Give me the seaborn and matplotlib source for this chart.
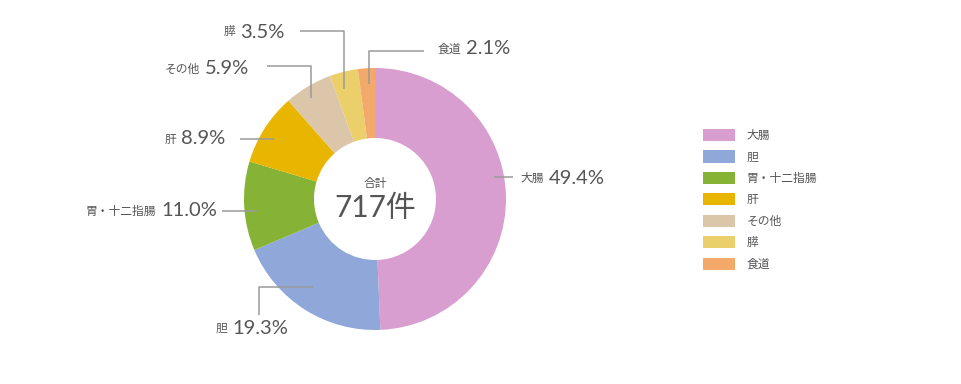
import matplotlib
matplotlib.use("Agg")
import matplotlib.pyplot as plt
import seaborn as sns

# ---- data ----
categories = ["大腸", "胆", "胃・十二指腸", "肝", "その他", "膵", "食道"]
legend_labels = ["大腸", "胆", "胃・十二指腸", "肝", "その他", "膵", "食道"]
percents = [49.4, 19.3, 11.0, 8.9, 5.9, 3.5, 2.1]
total_label = "合計"
total_value = "717件"
colors = ["#d89ecf", "#8fa8d9", "#86b336", "#e8b600", "#dcc6a9", "#ebcf6a", "#f3a96a"]

# ---- layout (pixel coordinates of the 962x384 canvas) ----
W, H = 962, 384
CX, CY, R, RING = 375, 199, 131, 70
# percent text left x, text center y, leader line polyline
label_layout = [
    (549, 178, [(494, 177), (513, 177)]),
    (232, 328, [(313, 287), (259, 287), (259, 315)]),
    (161, 211, [(257, 211), (222, 211)]),
    (181, 139, [(274, 139), (240, 139)]),
    (205, 69, [(311, 98), (311, 66), (267, 66)]),
    (240, 32, [(344, 89), (344, 31), (300, 31)]),
    (466, 49, [(369, 84), (369, 51), (424, 51)]),
]

sns.set_theme(style="white")
plt.rcParams["font.family"] = ["Noto Sans CJK JP", "DejaVu Sans"]

TXT = "#555555"
fig = plt.figure(figsize=(W / 100, H / 100), dpi=100)
ax = fig.add_axes([0, 0, 1, 1])

def Y(y):
    return H - y

palette = sns.color_palette(colors)
wedges, _ = ax.pie(percents, colors=palette, startangle=90, counterclock=False,
                   radius=R, center=(CX, Y(CY)),
                   wedgeprops=dict(width=RING, linewidth=0))

for name, pct, (px, py, line) in zip(categories, percents, label_layout):
    xs = [p[0] for p in line]
    ys = [Y(p[1]) for p in line]
    ax.plot(xs, ys, color="#9a9a9a", lw=1.1, solid_capstyle="butt")
    ax.text(px, Y(py), f"{pct:.1f}%", ha="left", va="center", fontsize=14.5,
            color=TXT, family=["Lato", "Noto Sans CJK JP"])
    ax.text(px - 5, Y(py), name, ha="right", va="center", fontsize=8.5, color=TXT)

ax.text(CX, Y(184), total_label, ha="center", va="center", fontsize=8.5, color=TXT)
ax.text(CX, Y(208), total_value, ha="center", va="center", fontsize=21.5, color=TXT,
        family=["Lato", "Noto Sans CJK JP"])

leg = ax.legend(wedges, legend_labels, loc="upper left",
                bbox_to_anchor=(703 / W, 1 - 129 / H), bbox_transform=fig.transFigure,
                frameon=False, fontsize=8.5, handlelength=2.7, handleheight=1.2,
                labelspacing=0.71, borderpad=0, borderaxespad=0, handletextpad=1.0)
for t in leg.get_texts():
    t.set_color(TXT)

ax.set_xlim(0, W)
ax.set_ylim(0, H)
ax.set_aspect("equal")
ax.axis("off")
fig.savefig("out.png", dpi=100)
